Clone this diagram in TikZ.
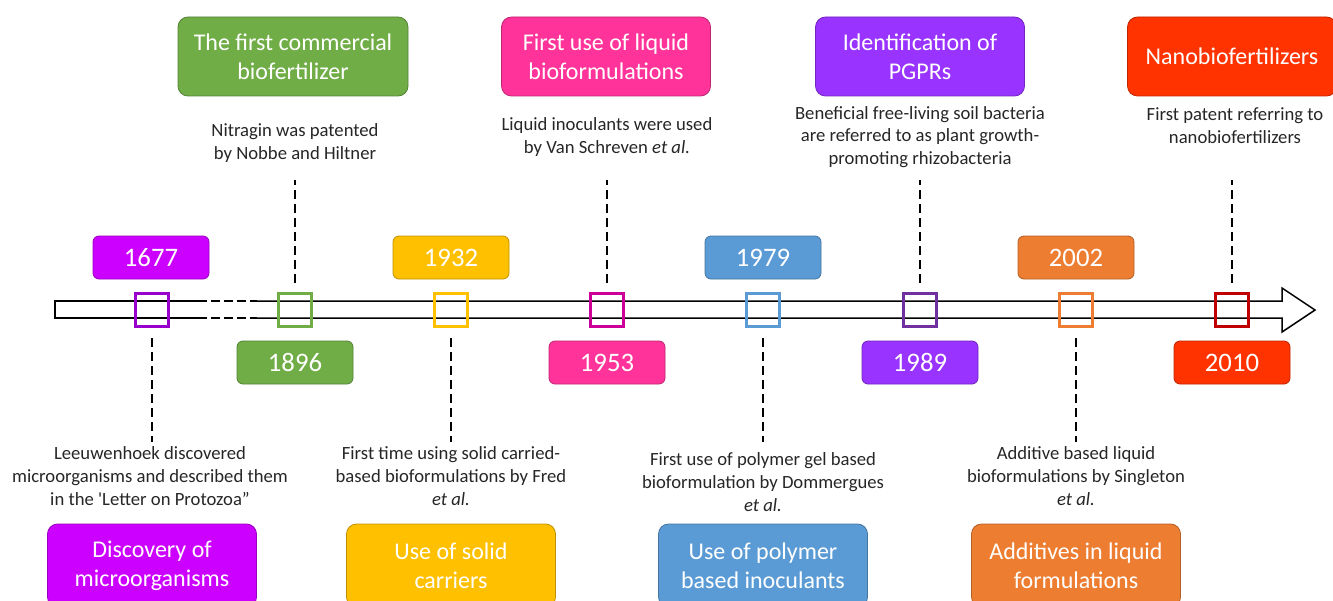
\documentclass[tikz,border=0pt]{standalone}
\usepackage{fontspec}
\setmainfont{Carlito}[Ligatures=TeXOff]
\definecolor{cPurA}{HTML}{CC00FF}
\definecolor{cPurAsq}{HTML}{9900CC}
\definecolor{cGreen}{HTML}{70AD47}
\definecolor{cYellow}{HTML}{FFC000}
\definecolor{cPink}{HTML}{FF3399}
\definecolor{cPinksq}{HTML}{CC0099}
\definecolor{cBlue}{HTML}{5B9BD5}
\definecolor{cPurB}{HTML}{9933FF}
\definecolor{cPurBsq}{HTML}{7030A0}
\definecolor{cOrange}{HTML}{ED7D31}
\definecolor{cRed}{HTML}{FF3300}
\definecolor{cRedsq}{HTML}{C00000}
\tikzset{
  yearbox/.style={fill=#1, draw=#1!75!black, line width=0.8bp, rounded corners=6bp,
    minimum width=116bp, minimum height=43bp, inner sep=0pt, text=white,
    font=\fontsize{26.7bp}{30bp}\selectfont},
  titlebox/.style={fill=#1, draw=#1!75!black, line width=0.8bp, rounded corners=10bp,
    minimum width=209bp, minimum height=79bp, inner sep=0pt, text=white, align=center,
    font=\fontsize{24bp}{29.3bp}\selectfont},
  desc/.style={inner sep=0pt, align=center, text=black!85,
    font=\fontsize{18.67bp}{22.8bp}\selectfont},
  marker/.style={draw=#1, line width=3bp, minimum width=33bp, minimum height=33bp, inner sep=0pt},
  dashline/.style={line width=2bp, dash pattern=on 9bp off 5bp},
  axisline/.style={line width=1.5bp, black},
}
\begin{document}
\begin{tikzpicture}[x=1bp, y=-1bp]
\useasboundingbox (0,0) rectangle (1333,601);
\clip (0,0) rectangle (1333,601);
% arrow body
\draw[axisline] (198,301) -- (55,301) -- (55,318) -- (198,318);
\draw[axisline, dash pattern=on 9bp off 4bp] (198,301) -- (257,301);
\draw[axisline, dash pattern=on 9bp off 4bp] (198,318) -- (257,318);
\draw[axisline, line join=miter] (257,301) -- (1282,301) -- (1282,288) -- (1315,310) -- (1282,332) -- (1282,318) -- (257,318);
% markers
\node[marker=cPurAsq] (sq1677) at (152,310) {};
\node[marker=cGreen] (sq1896) at (295,310) {};
\node[marker=cYellow] (sq1932) at (451,310) {};
\node[marker=cPinksq] (sq1953) at (607,310) {};
\node[marker=cBlue] (sq1979) at (763,310) {};
\node[marker=cPurBsq] (sq1989) at (920,310) {};
\node[marker=cOrange] (sq2002) at (1076,310) {};
\node[marker=cRedsq] (sq2010) at (1232,310) {};
% year boxes
\node[yearbox=cPurA] (y1677) at (151,257.5) {1677};
\node[yearbox=cGreen] (y1896) at (295,362.5) {1896};
\node[yearbox=cYellow] (y1932) at (451,257.5) {1932};
\node[yearbox=cPink] (y1953) at (607,362.5) {1953};
\node[yearbox=cBlue] (y1979) at (763,257.5) {1979};
\node[yearbox=cPurB] (y1989) at (920,362.5) {1989};
\node[yearbox=cOrange] (y2002) at (1076,257.5) {2002};
\node[yearbox=cRed] (y2010) at (1232,362.5) {2010};
% top title boxes
\node[titlebox=cGreen, minimum width=230bp] (t1896) at (293,56.5) {The first commercial\\biofertilizer};
\node[titlebox=cPink] (t1953) at (606,56.5) {First use of liquid\\bioformulations};
\node[titlebox=cPurB] (t1989) at (920,56.5) {Identification of\\PGPRs};
\node[titlebox=cRed] (t2010) at (1232,56.5) {Nanobiofertilizers};
% bottom title boxes
\node[titlebox=cPurA, minimum height=83bp] (t1677) at (152,565.5) {Discovery of\\microorganisms};
\node[titlebox=cYellow, minimum height=83bp] (t1932) at (451,565.5) {Use of solid\\carriers};
\node[titlebox=cBlue, minimum height=83bp] (t1979) at (763,565.5) {Use of polymer\\based inoculants};
\node[titlebox=cOrange, minimum height=83bp] (t2002) at (1076,565.5) {Additives in liquid\\formulations};
% descriptions
\node[desc] (d1896) at (295,143) {Nitragin was patented\\by Nobbe and Hiltner};
\node[desc] (d1953) at (607,137) {Liquid inoculants were used\\by Van Schreven \textit{et al.}};
\node[desc] (d1989) at (920,137) {Beneficial free-living soil bacteria\\are referred to as plant growth-\\promoting rhizobacteria};
\node[desc] (d2010) at (1235,126) {First patent referring to\\nanobiofertilizers};
\node[desc] (d1677) at (150,476) {Leeuwenhoek discovered\\microorganisms and described them\\in the 'Letter on Protozoa”};
\node[desc] (d1932) at (451,476) {First time using solid carried-\\based bioformulations by Fred\\\textit{et al.}};
\node[desc] (d1979) at (763,482) {First use of polymer gel based\\bioformulation by Dommergues\\\textit{et al.}};
\node[desc] (d2002) at (1076,476) {Additive based liquid\\bioformulations by Singleton\\\textit{et al.}};
% connector ends
\coordinate (e1677) at (152,442);
\coordinate (e1896) at (295,180);
\coordinate (e1932) at (451,442);
\coordinate (e1953) at (607,180);
\coordinate (e1979) at (763,442);
\coordinate (e1989) at (920,180);
\coordinate (e2002) at (1076,442);
\coordinate (e2010) at (1232,180);
% dashed connectors
\draw[dashline, shorten <=10bp] (sq1677.south) -- (e1677);
\draw[dashline, shorten <=9bp] (sq1896.north) -- (e1896);
\draw[dashline, shorten <=10bp] (sq1932.south) -- (e1932);
\draw[dashline, shorten <=9bp] (sq1953.north) -- (e1953);
\draw[dashline, shorten <=10bp] (sq1979.south) -- (e1979);
\draw[dashline, shorten <=9bp] (sq1989.north) -- (e1989);
\draw[dashline, shorten <=10bp] (sq2002.south) -- (e2002);
\draw[dashline, shorten <=9bp] (sq2010.north) -- (e2010);
\end{tikzpicture}
\end{document}
